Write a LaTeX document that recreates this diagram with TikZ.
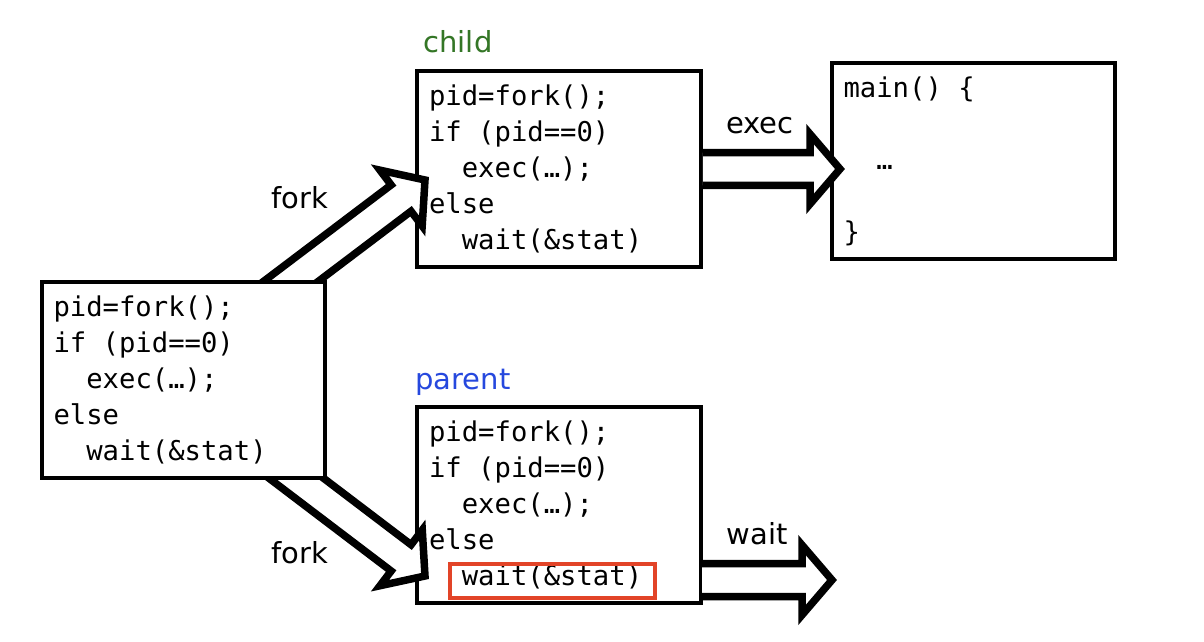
\documentclass[tikz,border=0pt]{standalone}
\usepackage{fontspec}
\setmainfont{DejaVu Sans}
\newfontfamily\codefont{DejaVu Sans Mono}
\usetikzlibrary{positioning,calc}

\definecolor{childgreen}{RGB}{52,118,38}
\definecolor{parentblue}{RGB}{38,72,222}
\definecolor{markred}{RGB}{226,68,40}

\newcommand{\shaftw}{0.33cm}
\newcommand{\headw}{0.7cm}
\newcommand{\headlen}{0.6cm}
\newcommand{\ind}{\phantom{xx}}
\newcommand{\sps}{\phantom{x}}

% hollow block arrow, #1 = tail, #2 = tip
\newcommand{\blockarrow}[2]{%
  \coordinate (hb) at ($(#2)!\headlen!(#1)$);
  \path[fill=white] ($(#1)!\shaftw!90:(#2)$) -- ($(hb)!\shaftw!90:(#2)$) -- ($(hb)!\headw!90:(#2)$) -- (#2)
    -- ($(hb)!\headw!-90:(#2)$) -- ($(hb)!\shaftw!-90:(#2)$) -- ($(#1)!\shaftw!-90:(#2)$) -- cycle;
  \draw[arrowline] ($(#1)!\shaftw!90:(#2)$) -- ($(hb)!\shaftw!90:(#2)$) -- ($(hb)!\headw!90:(#2)$) -- (#2)
    -- ($(hb)!\headw!-90:(#2)$) -- ($(hb)!\shaftw!-90:(#2)$) -- ($(#1)!\shaftw!-90:(#2)$);
}

\begin{document}
\begin{tikzpicture}[x=0.02cm,y=-0.02cm,
    codebox/.style={draw, fill=white, line width=0.08cm, minimum width=5.68cm, minimum height=3.92cm,
      inner xsep=0.24cm, text width=5.2cm, align=left,
      font=\codefont\fontsize{15.5}{20.5}\selectfont},
    arrowline/.style={line width=0.15cm, line join=miter},
    lbl/.style={font=\fontsize{16.5}{19}\selectfont}]
    \path[fill=white] (0,0) rectangle (1204,642);

    % child and parent after fork
    \node[codebox] (child) at (559,169) {pid=fork();\\ if\sps(pid==0)\\ \ind exec(…);\\ else\\ \ind wait(\&stat)};
    \node[codebox] (parent) at (559,505) {pid=fork();\\ if\sps(pid==0)\\ \ind exec(…);\\ else\\ \ind wait(\&stat)};
    \node[codebox] (main) at (973.5,161) {main()\sps\{\\ \mbox{}\\ \ind …\\ \mbox{}\\ \}};
    \node[draw=markred, line width=0.08cm, minimum width=4.1cm, minimum height=0.68cm] (mark) at (552.5,581) {};

    % arrows
    \coordinate (forkupTail) at (261,304);
    \coordinate (forkupTip) at (425,180);
    \coordinate (forkdnTail) at (267,456);
    \coordinate (forkdnTip) at (425,576);
    \coordinate (execTip) at (840,169);
    \coordinate (waitTail) at (702,580);
    \coordinate (waitTip) at (832,580);
    \blockarrow{child.east}{execTip}
    \blockarrow{waitTail}{waitTip}
    \blockarrow{forkupTail}{forkupTip}
    \blockarrow{forkdnTail}{forkdnTip}

    % original process
    \node[codebox] (orig) at (183.5,380) {pid=fork();\\ if\sps(pid==0)\\ \ind exec(…);\\ else\\ \ind wait(\&stat)};

    % labels
    \node[lbl, text=childgreen] (childlbl) at (458,42) {child};
    \node[lbl, text=parentblue] (parentlbl) at (463,382) {parent};
    \node[lbl] (forkup) at (300,198) {fork};
    \node[lbl] (forkdn) at (300,553) {fork};
    \node[lbl] (execlbl) at (760,126) {exec};
    \node[lbl] (waitlbl) at (757,534) {wait};
\end{tikzpicture}
\end{document}
